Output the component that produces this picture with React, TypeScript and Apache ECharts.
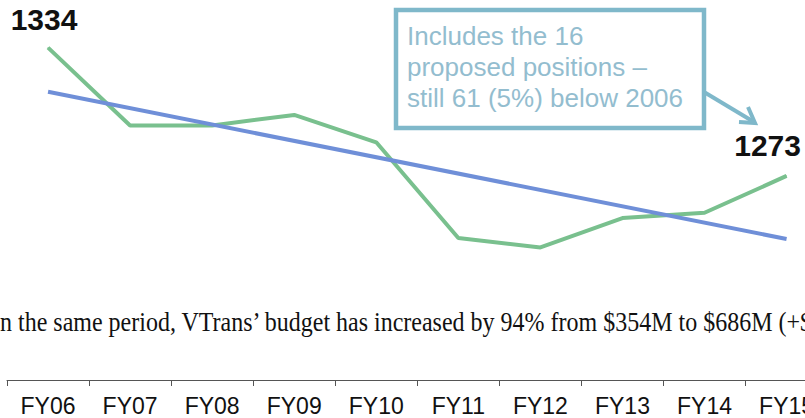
import React, { useEffect, useRef } from "react";
import * as echarts from "echarts";

const categories = ["FY06", "FY07", "FY08", "FY09", "FY10", "FY11", "FY12", "FY13", "FY14", "FY15"];
const positions = [1334, 1297, 1297, 1302, 1289, 1243.5, 1239, 1253, 1255.5, 1273];
const trendEnds: [string, number][] = [["FY06", 1313], ["FY15", 1243]];
const calloutLines = ["Includes the 16", "proposed positions \u2013", "still 61 (5%) below 2006"];
const noteText = "n the same period, VTrans\u2019 budget has increased by 94% from $354M to $686M (+$3";

export default function App() {
  const ref = useRef<HTMLDivElement>(null);
  useEffect(() => {
    if (!ref.current) return;
    const chart = echarts.init(ref.current, null, { renderer: "svg" });
    const last = positions.length - 1;
    const boxColor = "#7fb8ca";
    const numLabel = {
      show: true,
      align: "center",
      verticalAlign: "middle",
      fontFamily: "Liberation Sans",
      fontWeight: "bold",
      fontSize: 30,
      color: "#111",
    };
    chart.setOption({
      animation: false,
      backgroundColor: "#ffffff",
      grid: {
        left: 7,
        right: -22.6,
        top: 35,
        bottom: 38,
        containLabel: false,
        outerBoundsMode: "none",
      },
      xAxis: {
        type: "category",
        data: categories,
        boundaryGap: true,
        axisLine: { show: true, lineStyle: { color: "#555", width: 1 } },
        axisTick: { show: true, length: 6, lineStyle: { color: "#555" } },
        axisLabel: {
          fontFamily: "Liberation Sans",
          fontSize: 23,
          color: "#111",
          margin: 14,
          interval: 0,
        },
        splitLine: { show: false },
      },
      yAxis: {
        type: "value",
        min: 1176,
        max: 1340,
        show: false,
        splitLine: { show: false },
      },
      series: [
        {
          type: "line",
          clip: false,
          data: positions.map((v, i) => {
            if (i === 0) {
              return { value: v, label: { ...numLabel, position: [-3.5, -27.5] } };
            }
            if (i === last) {
              return { value: v, label: { ...numLabel, position: [-18.5, -29.5] } };
            }
            return v;
          }),
          showSymbol: true,
          showAllSymbol: true,
          symbol: "circle",
          symbolSize: 1,
          lineStyle: { color: "#79c08e", width: 4 },
          itemStyle: { color: "#79c08e" },
          label: { show: false },
          labelLayout: { hideOverlap: false },
          z: 3,
        },
        {
          type: "line",
          data: trendEnds,
          showSymbol: false,
          symbol: "none",
          lineStyle: { color: "#6f8fd8", width: 4 },
          z: 4,
        },
      ],
      graphic: [
        {
          type: "text",
          x: 0,
          y: 309,
          scaleY: 1.1,
          style: {
            text: noteText,
            font: "24px 'Liberation Serif'",
            fill: "#111",
            verticalAlign: "top",
          },
        },
        {
          type: "rect",
          shape: { x: 396, y: 10, width: 308, height: 118 },
          style: { fill: "#ffffff", stroke: boxColor, lineWidth: 4.5 },
          z: 10,
        },
        {
          type: "text",
          x: 407,
          y: 20,
          z: 11,
          style: {
            text: calloutLines.join("\n"),
            font: "26px 'Liberation Sans'",
            fill: "#93bdcf",
            lineHeight: 31,
          },
        },
        {
          type: "line",
          shape: { x1: 704, y1: 92, x2: 754, y2: 122 },
          style: { stroke: boxColor, lineWidth: 4 },
          z: 10,
        },
        {
          type: "polyline",
          shape: { points: [[748, 107], [755, 123], [739, 122]] },
          style: { stroke: boxColor, lineWidth: 4, fill: "none" },
          z: 10,
        },
      ],
    });
    return () => chart.dispose();
  }, []);
  return <div ref={ref} style={{ width: 805, height: 418, position: "absolute", left: 0, top: 0 }} />;
}
